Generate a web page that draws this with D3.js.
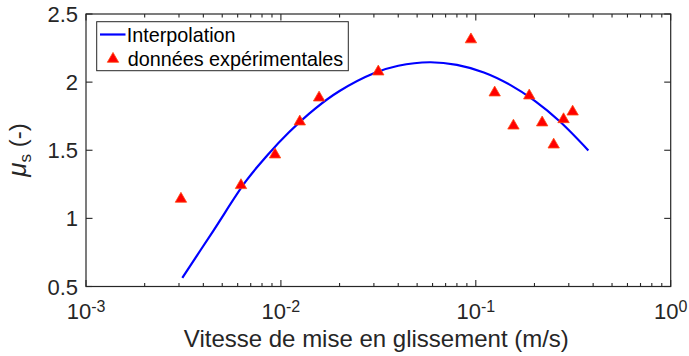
<!DOCTYPE html>
<html>
<head>
<meta charset="utf-8">
<script src="https://cdn.jsdelivr.net/npm/d3@7"></script>
<style>
  html, body { margin: 0; padding: 0; background: #fff; }
  svg { display: block; font-family: "Liberation Sans", Arial, Helvetica, sans-serif; }
</style>
</head>
<body>
<svg id="chart" width="689" height="356"></svg>
<script>
// ---- data ----
const expSpeed = [0.00307, 0.00624, 0.00933, 0.0125, 0.0157, 0.0316, 0.0944, 0.125, 0.156, 0.188, 0.219, 0.251, 0.282, 0.314];
const expMu    = [1.15,    1.25,    1.475,   1.717,  1.893,  2.084,  2.32,   1.93,  1.687, 1.908, 1.71,  1.548, 1.734, 1.79];

const fitSpeed = [0.00312, 0.0045, 0.0066, 0.0085, 0.011, 0.015, 0.02, 0.03, 0.04, 0.058, 0.08, 0.11, 0.15, 0.2, 0.27, 0.378];
const fitMu    = [0.564,   0.909,  1.271,  1.462,  1.632, 1.806, 1.935, 2.065, 2.12, 2.146, 2.127, 2.071, 1.98, 1.864, 1.711, 1.499];

const yTicks = [0.5, 1, 1.5, 2, 2.5];
const yTickLabels = ["0.5", "1", "1.5", "2", "2.5"];
const xDecades = [-3, -2, -1, 0];

const legendLabels = ["Interpolation", "données expérimentales"];
const xTitle = "Vitesse de mise en glissement (m/s)";

// ---- layout ----
const svg = d3.select("#chart");
const L = 86, R = 670.7, T = 14, B = 286.5;
const axisColor = "#262626";

const x = d3.scaleLog().domain([1e-3, 1]).range([L, R]);
const y = d3.scaleLinear().domain([0.5, 2.5]).range([B, T]);

const minorVals = [];
xDecades.slice(0, -1).forEach(d => { for (let k = 2; k <= 9; k++) minorVals.push(k * Math.pow(10, d)); });
const majorVals = xDecades.map(d => Math.pow(10, d));

const g = svg.append("g");

// box
g.append("rect").attr("x", L).attr("y", T).attr("width", R - L).attr("height", B - T)
  .attr("fill", "none").attr("stroke", axisColor).attr("stroke-width", 1.2);

// ticks (inward, mirrored)
const tickG = g.append("g").attr("stroke", axisColor).attr("stroke-width", 1.1);
minorVals.forEach(v => {
  tickG.append("line").attr("x1", x(v)).attr("x2", x(v)).attr("y1", B).attr("y2", B - 3.5);
  tickG.append("line").attr("x1", x(v)).attr("x2", x(v)).attr("y1", T).attr("y2", T + 3.5);
});
majorVals.forEach(v => {
  tickG.append("line").attr("x1", x(v)).attr("x2", x(v)).attr("y1", B).attr("y2", B - 6.5);
  tickG.append("line").attr("x1", x(v)).attr("x2", x(v)).attr("y1", T).attr("y2", T + 6.5);
});
yTicks.forEach(v => {
  tickG.append("line").attr("x1", L).attr("x2", L + 6.5).attr("y1", y(v)).attr("y2", y(v));
  tickG.append("line").attr("x1", R).attr("x2", R - 6.5).attr("y1", y(v)).attr("y2", y(v));
});

// y tick labels
yTicks.forEach((v, i) => {
  g.append("text").attr("x", L - 8).attr("y", y(v) + 8)
    .attr("text-anchor", "end").attr("font-size", 22).attr("fill", axisColor)
    .text(yTickLabels[i]);
});

// x tick labels 10^n
xDecades.forEach(d => {
  const t = g.append("text").attr("x", x(Math.pow(10, d))).attr("y", 319.3)
    .attr("text-anchor", "middle").attr("font-size", 22).attr("fill", axisColor);
  t.append("tspan").text("10");
  t.append("tspan").attr("dy", -7).attr("font-size", 16).text(String(d));
});

// x title
g.append("text").attr("x", (L + R) / 2 - 2).attr("y", 347)
  .attr("text-anchor", "middle").attr("font-size", 24).attr("fill", axisColor)
  .text(xTitle);

// y title
const yt = g.append("text").attr("transform", "translate(26,150) rotate(-90)")
  .attr("text-anchor", "middle").attr("font-size", 24).attr("fill", axisColor);
yt.append("tspan").attr("font-style", "italic").attr("font-size", 26).text("μ");
yt.append("tspan").attr("font-size", 17).attr("dy", 5).text("s");
yt.append("tspan").attr("dy", -5).text(" (-)");

// fitted curve
const line = d3.line().x(d => x(d[0])).y(d => y(d[1])).curve(d3.curveCatmullRom.alpha(0.5));
g.append("path").datum(fitSpeed.map((s, i) => [s, fitMu[i]]))
  .attr("d", line).attr("fill", "none").attr("stroke", "#0000ff").attr("stroke-width", 2.2);

// triangles
const tri = d3.symbol().type(d3.symbolTriangle).size(56);
g.selectAll(".pt").data(expSpeed.map((s, i) => [s, expMu[i]])).enter()
  .append("path").attr("class", "pt")
  .attr("transform", d => `translate(${x(d[0])},${y(d[1]) + 1})`)
  .attr("d", tri).attr("fill", "#ff0000").attr("stroke", "#ff4a12").attr("stroke-width", 0.8);

// legend
const lg = g.append("g");
lg.append("rect").attr("x", 96.7).attr("y", 21.7).attr("width", 348.3 - 96.7).attr("height", 70.7 - 21.7)
  .attr("fill", "#fff").attr("stroke", axisColor).attr("stroke-width", 1);
lg.append("line").attr("x1", 100).attr("x2", 125.5).attr("y1", 34.5).attr("y2", 34.5)
  .attr("stroke", "#0000ff").attr("stroke-width", 2.2);
lg.append("path").attr("transform", "translate(113,59)").attr("d", tri)
  .attr("fill", "#ff0000").attr("stroke", "#ff4a12").attr("stroke-width", 0.8);
lg.append("text").attr("x", 126.7).attr("y", 41.5).attr("font-size", 19.8).attr("fill", "#000").text(legendLabels[0]);
lg.append("text").attr("x", 127.7).attr("y", 65.5).attr("font-size", 19.8).attr("fill", "#000").text(legendLabels[1]);
</script>
</body>
</html>
